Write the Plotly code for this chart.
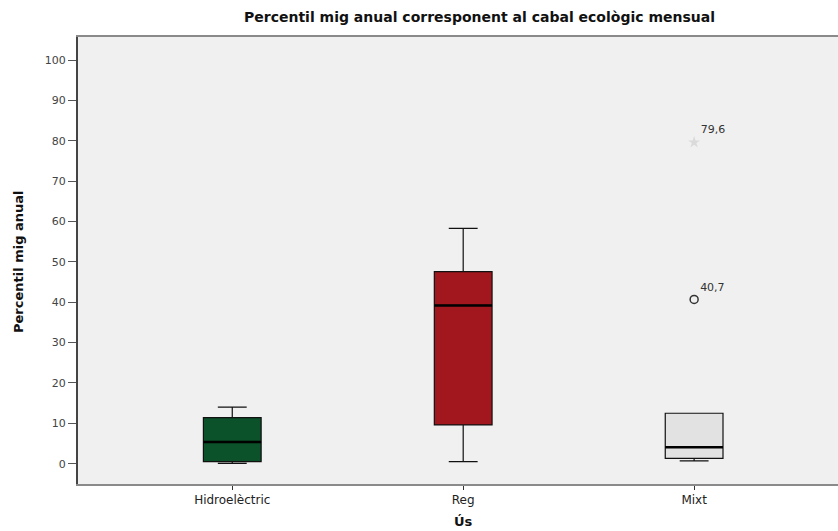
import plotly.graph_objects as go

# Summary statistics per use category
categories = ["Hidroelèctric", "Reg", "Mixt"]
lower_whisker = [0.1, 0.5, 0.7]
q1 = [0.5, 9.6, 1.3]
median = [5.4, 39.2, 4.1]
q3 = [11.4, 47.6, 12.5]
upper_whisker = [14.0, 58.3, 12.5]
box_colors = ["#0b5129", "#a1171d", "#e2e2e2"]

# Outliers of the "Mixt" group
outlier_cat = [2]
outlier_val = [40.7]
extreme_cat = [2]
extreme_val = [79.6]

y_ticks = [0, 10, 20, 30, 40, 50, 60, 70, 80, 90, 100]

BOX_W = 0.25
FONT = "DejaVu Sans, Verdana, sans-serif"

W, H = 838, 531
ML, MR, MT, MB = 78, 0, 37, 47
PW, PH = W - ML - MR, H - MT - MB


def px_x(px):
    return (px - ML) / PW


def px_y(py):
    return (H - MB - py) / PH


fig = go.Figure()

for i, cat in enumerate(categories):
    fig.add_trace(go.Box(
        x=[i],
        q1=[q1[i]], median=[median[i]], q3=[q3[i]],
        lowerfence=[lower_whisker[i]], upperfence=[upper_whisker[i]],
        width=BOX_W, whiskerwidth=0.5,
        fillcolor=box_colors[i],
        line=dict(color="#111111", width=1.2),
        boxpoints=False, name=cat, showlegend=False, hoverinfo="skip",
    ))
    # thicker median bar
    fig.add_shape(type="line", xref="x", yref="y",
                  x0=i - BOX_W / 2, x1=i + BOX_W / 2,
                  y0=median[i], y1=median[i],
                  line=dict(color="#000000", width=2.5))

fig.add_trace(go.Scatter(
    x=outlier_cat, y=outlier_val, mode="markers+text",
    marker=dict(symbol="circle-open", size=8, color="#333333", line=dict(width=1.5)),
    text=[f"{v:.1f}".replace(".", ",") for v in outlier_val],
    textposition="top right", textfont=dict(family=FONT, size=11, color="#333333"),
    showlegend=False, hoverinfo="skip", cliponaxis=False,
))
fig.add_trace(go.Scatter(
    x=extreme_cat, y=extreme_val, mode="markers+text",
    marker=dict(symbol="star", size=9, color="#dadada", line=dict(width=0)),
    text=[f"{v:.1f}".replace(".", ",") for v in extreme_val],
    textposition="top right", textfont=dict(family=FONT, size=11, color="#333333"),
    showlegend=False, hoverinfo="skip", cliponaxis=False,
))

fig.update_layout(
    width=W, height=H,
    margin=dict(l=ML, r=MR, t=MT, b=MB),
    paper_bgcolor="#ffffff", plot_bgcolor="#f0f0f0",
    font=dict(family=FONT, size=11, color="#333333"),
    annotations=[
        dict(text="<b>Percentil mig anual corresponent al cabal ecològic mensual</b>",
             x=px_x(479), y=px_y(17), xref="paper", yref="paper",
             xanchor="center", yanchor="middle", showarrow=False,
             font=dict(family=FONT, size=14, color="#111111")),
        dict(text="<b>Ús</b>", x=px_x(463), y=px_y(521),
             xref="paper", yref="paper", xanchor="center", yanchor="middle",
             showarrow=False, font=dict(family=FONT, size=13, color="#111111")),
        dict(text="<b>Percentil mig anual</b>", x=px_x(18), y=px_y(262),
             xref="paper", yref="paper", xanchor="center", yanchor="middle",
             textangle=-90, showarrow=False,
             font=dict(family=FONT, size=13, color="#111111")),
    ],
)

fig.update_xaxes(
    range=[-0.668, 2.623], tickmode="array", tickvals=list(range(len(categories))),
    ticktext=categories, ticks="outside", ticklen=4, tickcolor="#333333", tickwidth=1,
    showline=True, linecolor="#8a8a8a", linewidth=2, mirror=True,
    showgrid=False, zeroline=False, tickfont=dict(size=12, color="#222222"),
)
fig.update_yaxes(
    range=[-5.03, 105.7], tickmode="array", tickvals=y_ticks,
    ticks="outside", ticklen=8, tickcolor="#555555", tickwidth=1,
    showline=True, linecolor="#444444", linewidth=2,
    showgrid=False, zeroline=False, tickfont=dict(size=11, color="#444444"),
)

fig.write_html("out.html")
